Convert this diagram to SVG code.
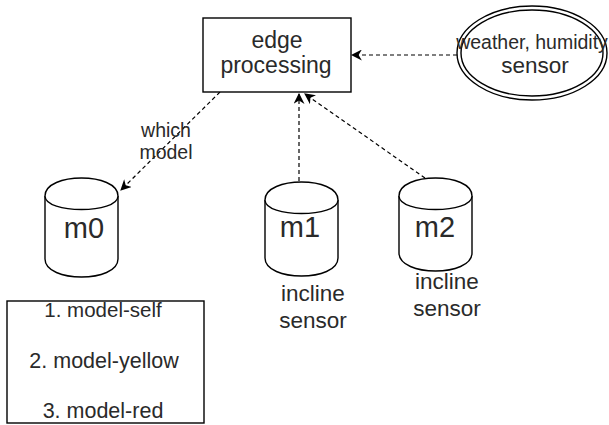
<svg xmlns="http://www.w3.org/2000/svg" width="609" height="425" viewBox="0 0 609 425">
  <style>
    .shape { fill: #ffffff; stroke: #000000; stroke-width: 1.4; }
    .label { font-family: "Liberation Sans", Arial, Helvetica, sans-serif; fill: #2a2a2a; text-anchor: middle; }
    .edge { fill: none; stroke: #000000; stroke-width: 1.2; stroke-dasharray: 4 3; }
  </style>
  <defs>
    <marker id="arrow" viewBox="0 0 10 10" refX="9" refY="5" markerWidth="11" markerHeight="11" markerUnits="userSpaceOnUse" orient="auto">
      <path d="M0,0 L10,5 L0,10 L3,5 Z" fill="#000000"/>
    </marker>
  </defs>

  <rect width="609" height="425" fill="#ffffff"/>

  <!-- connectors -->
  <g id="connectors">
    <line class="edge" x1="457" y1="55" x2="352" y2="55" marker-end="url(#arrow)"/>
    <line class="edge" x1="220" y1="92" x2="121" y2="190" marker-end="url(#arrow)"/>
    <line class="edge" x1="299" y1="181" x2="299" y2="94" marker-end="url(#arrow)"/>
    <line class="edge" x1="425" y1="178" x2="305" y2="94" marker-end="url(#arrow)"/>
    <text class="label" font-size="19.5" x="166" y="137">which</text>
    <text class="label" font-size="19.5" x="166" y="159">model</text>
  </g>

  <!-- edge processing -->
  <g id="edge-processing">
    <rect class="shape" x="203" y="18" width="148" height="74"/>
    <text class="label" font-size="23" x="277" y="48">edge</text>
    <text class="label" font-size="23" x="276" y="73">processing</text>
  </g>

  <!-- weather / humidity sensor -->
  <g id="weather-sensor">
    <ellipse class="shape" cx="532" cy="53" rx="75" ry="47"/>
    <ellipse class="shape" cx="532" cy="53" rx="71" ry="43"/>
    <text class="label" font-size="19.5" x="532" y="49">weather, humidity</text>
    <text class="label" font-size="22.5" x="535" y="73">sensor</text>
  </g>

  <!-- model stores -->
  <g id="m0">
    <path class="shape" d="M45,196 C45,172 118,172 118,196 L118,259 C118,283 45,283 45,259 Z"/>
    <path class="shape" d="M45,196 C45,214 118,214 118,196"/>
    <text class="label" font-size="29" x="84" y="238">m0</text>
  </g>

  <g id="m1">
    <path class="shape" d="M265,200 C265,176 338,176 338,200 L338,258 C338,282 265,282 265,258 Z"/>
    <path class="shape" d="M265,200 C265,218 338,218 338,200"/>
    <text class="label" font-size="29" x="300" y="237">m1</text>
    <text class="label" font-size="22.5" x="313" y="301">incline</text>
    <text class="label" font-size="22.5" x="313" y="328">sensor</text>
  </g>

  <g id="m2">
    <path class="shape" d="M399,196 C399,172 472,172 472,196 L472,253 C472,277 399,277 399,253 Z"/>
    <path class="shape" d="M399,196 C399,214 472,214 472,196"/>
    <text class="label" font-size="29" x="435" y="237">m2</text>
    <text class="label" font-size="22.5" x="447" y="289">incline</text>
    <text class="label" font-size="22.5" x="447" y="316">sensor</text>
  </g>

  <!-- model list -->
  <g id="model-list">
    <rect class="shape" x="7" y="301" width="197" height="122"/>
    <text class="label" font-size="20.5" x="103" y="317">1. model-self</text>
    <text class="label" font-size="21.5" x="104" y="368">2. model-yellow</text>
    <text class="label" font-size="21.5" x="103" y="418">3. model-red</text>
  </g>
</svg>
